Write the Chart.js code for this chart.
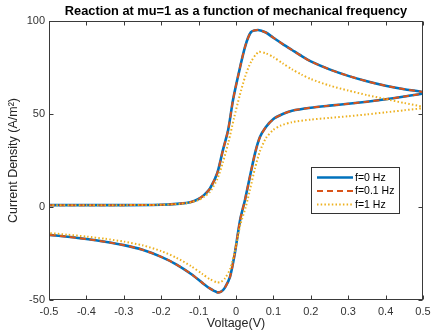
<!DOCTYPE html>
<html>
<head>
<meta charset="utf-8">
<script src="https://cdn.jsdelivr.net/npm/chart.js@4.4.1/dist/chart.umd.min.js"></script>
<style>
html,body{margin:0;padding:0;background:#fff;}
#wrap{width:446px;height:335px;position:relative;}
</style>
</head>
<body>
<div id="wrap"><canvas id="c" width="446" height="335"></canvas></div>
<script>
// ---- data ----
const seriesLabels = ['f=0 Hz', 'f=0.1 Hz', 'f=1 Hz'];
const xTickValues = [-0.5, -0.4, -0.3, -0.2, -0.1, 0, 0.1, 0.2, 0.3, 0.4, 0.5];
const yTickValues = [-50, 0, 50, 100];

// f = 0 Hz, forward sweep (-0.5 -> 0.5)
const voltF0 = [-0.5, -0.4, -0.3, -0.2, -0.15, -0.12, -0.1, -0.085, -0.07, -0.05, -0.035, -0.021, -0.008, 0.005, 0.024, 0.04, 0.059, 0.08, 0.1, 0.125, 0.15, 0.175, 0.2, 0.25, 0.3, 0.35, 0.4, 0.45, 0.5];
const currF0 = [1.0, 1.0, 1.0, 1.2, 1.8, 2.7, 4.3, 6.5, 9.8, 18.3, 30.6, 41.4, 57.5, 69.9, 86.0, 94.0, 95.2, 93.8, 91.0, 87.6, 84.4, 81.2, 78.3, 74.0, 70.5, 67.6, 65.2, 63.3, 61.8];
// f = 0 Hz, reverse sweep (0.5 -> -0.5)
const voltR0 = [0.5, 0.45, 0.4, 0.35, 0.3, 0.25, 0.2, 0.15, 0.125, 0.1, 0.08, 0.064, 0.051, 0.037, 0.024, 0.011, -0.003, -0.016, -0.03, -0.04, -0.051, -0.07, -0.09, -0.12, -0.16, -0.2, -0.25, -0.3, -0.35, -0.4, -0.45, -0.5];
const currR0 = [61.0, 59.4, 57.9, 56.6, 55.5, 54.5, 53.4, 51.8, 50.0, 47.3, 43.0, 37.6, 29.0, 16.1, 3.8, -7.0, -24.7, -37.6, -43.5, -45.5, -45.8, -43.8, -40.8, -36.0, -30.8, -26.8, -23.0, -20.5, -18.7, -17.2, -16.0, -15.0];

// f = 0.1 Hz (indistinguishable from f = 0 Hz in the figure)
const voltF01 = [-0.5, -0.4, -0.3, -0.2, -0.15, -0.12, -0.1, -0.085, -0.07, -0.05, -0.035, -0.021, -0.008, 0.005, 0.024, 0.04, 0.059, 0.08, 0.1, 0.125, 0.15, 0.175, 0.2, 0.25, 0.3, 0.35, 0.4, 0.45, 0.5];
const currF01 = [1.0, 1.0, 1.0, 1.2, 1.8, 2.7, 4.3, 6.5, 9.8, 18.3, 30.6, 41.4, 57.5, 69.9, 86.0, 94.0, 95.2, 93.8, 91.0, 87.6, 84.4, 81.2, 78.3, 74.0, 70.5, 67.6, 65.2, 63.3, 61.8];
const voltR01 = [0.5, 0.45, 0.4, 0.35, 0.3, 0.25, 0.2, 0.15, 0.125, 0.1, 0.08, 0.064, 0.051, 0.037, 0.024, 0.011, -0.003, -0.016, -0.03, -0.04, -0.051, -0.07, -0.09, -0.12, -0.16, -0.2, -0.25, -0.3, -0.35, -0.4, -0.45, -0.5];
const currR01 = [61.0, 59.4, 57.9, 56.6, 55.5, 54.5, 53.4, 51.8, 50.0, 47.3, 43.0, 37.6, 29.0, 16.1, 3.8, -7.0, -24.7, -37.6, -43.5, -45.5, -45.8, -43.8, -40.8, -36.0, -30.8, -26.8, -23.0, -20.5, -18.7, -17.2, -16.0, -15.0];

// f = 1 Hz
const voltF1 = [-0.5, -0.4, -0.3, -0.2, -0.15, -0.12, -0.1, -0.085, -0.07, -0.05, -0.035, -0.02, -0.005, 0.01, 0.025, 0.04, 0.06, 0.08, 0.1, 0.125, 0.15, 0.175, 0.2, 0.25, 0.3, 0.35, 0.4, 0.45, 0.5];
const currF1 = [1.0, 1.0, 1.0, 1.2, 1.7, 2.5, 3.8, 5.5, 8.0, 15.0, 24.0, 35.0, 48.0, 60.0, 70.5, 78.0, 83.3, 82.6, 80.6, 77.2, 74.0, 71.2, 68.8, 65.3, 62.6, 60.2, 58.0, 55.9, 53.8];
const voltR1 = [0.5, 0.45, 0.4, 0.35, 0.3, 0.25, 0.2, 0.15, 0.12, 0.1, 0.08, 0.064, 0.051, 0.037, 0.026, 0.011, 0.0, -0.015, -0.03, -0.04, -0.051, -0.07, -0.09, -0.12, -0.16, -0.2, -0.25, -0.3, -0.35, -0.4, -0.45, -0.5];
const currR1 = [53.2, 52.0, 50.9, 49.8, 48.8, 47.9, 47.0, 45.6, 43.8, 41.5, 37.0, 30.0, 21.0, 9.0, 0.0, -10.0, -21.0, -33.0, -38.5, -40.2, -40.5, -38.8, -36.0, -31.8, -27.2, -23.7, -20.6, -18.6, -17.1, -15.9, -14.9, -14.0];

function loop(vf, cf, vr, cr) {
  const pts = vf.map((v, i) => ({x: v, y: cf[i]}));
  return pts.concat(vr.map((v, i) => ({x: v, y: cr[i]})));
}

const FONT = '"Liberation Sans", Arial, Helvetica, sans-serif';

const decor = {
  id: 'decor',
  afterDraw(chart) {
    const ctx = chart.ctx, a = chart.chartArea, xs = chart.scales.x, ys = chart.scales.y;
    ctx.save();
    // box
    ctx.strokeStyle = '#3a3a3a';
    ctx.lineWidth = 1;
    const L = Math.round(a.left) + 0.5, R = Math.round(a.right) - 0.5;
    const T = Math.round(a.top) + 0.5, B = Math.round(a.bottom) - 0.5;
    ctx.strokeRect(L, T, R - L, B - T);
    // inward ticks
    ctx.beginPath();
    xTickValues.forEach(v => {
      const px = Math.round(xs.getPixelForValue(v)) + 0.5;
      ctx.moveTo(px, B); ctx.lineTo(px, B - 4);
      ctx.moveTo(px, T); ctx.lineTo(px, T + 4);
    });
    yTickValues.forEach(v => {
      const py = Math.round(ys.getPixelForValue(v)) + 0.5;
      ctx.moveTo(L, py); ctx.lineTo(L + 4, py);
      ctx.moveTo(R, py); ctx.lineTo(R - 4, py);
    });
    ctx.stroke();

    // title
    ctx.fillStyle = '#000';
    ctx.font = 'bold 12.8px ' + FONT;
    ctx.textAlign = 'center';
    ctx.textBaseline = 'middle';
    ctx.fillText('Reaction at mu=1 as a function of mechanical frequency', (a.left + a.right) / 2, 11);

    // axis titles
    ctx.fillStyle = '#262626';
    ctx.font = '12.5px ' + FONT;
    ctx.fillText('Voltage(V)', (a.left + a.right) / 2, 324);
    ctx.save();
    ctx.translate(14, (a.top + a.bottom) / 2);
    ctx.rotate(-Math.PI / 2);
    ctx.fillText('Current Density (A/m\u00B2)', 0, 0);
    ctx.restore();

    // legend
    const lx = 311.5, ly = 167.5, lw = 88, lh = 46;
    ctx.fillStyle = '#fff';
    ctx.fillRect(lx, ly, lw, lh);
    ctx.strokeStyle = '#333';
    ctx.lineWidth = 1;
    ctx.strokeRect(lx, ly, lw, lh);
    const rows = [177.5, 191, 204.5];
    chart.data.datasets.forEach((ds, i) => {
      ctx.save();
      ctx.strokeStyle = ds.borderColor;
      ctx.lineWidth = ds.borderWidth;
      ctx.setLineDash(ds.borderDash || []);
      ctx.beginPath();
      ctx.moveTo(317, rows[i]);
      ctx.lineTo(353, rows[i]);
      ctx.stroke();
      ctx.restore();
      ctx.fillStyle = '#000';
      ctx.font = '10.5px ' + FONT;
      ctx.textAlign = 'left';
      ctx.textBaseline = 'middle';
      ctx.fillText(seriesLabels[i], 355, rows[i] + 0.5);
    });
    ctx.restore();
  }
};

new Chart(document.getElementById('c'), {
  type: 'scatter',
  data: {
    datasets: [
      {label: seriesLabels[0], data: loop(voltF0, currF0, voltR0, currR0), showLine: true,
       borderColor: '#0072BD', borderWidth: 2.6, pointRadius: 0, tension: 0.25, order: 3},
      {label: seriesLabels[1], data: loop(voltF01, currF01, voltR01, currR01), showLine: true,
       borderColor: '#D95319', borderWidth: 2, borderDash: [6, 4], pointRadius: 0, tension: 0.25, order: 2},
      {label: seriesLabels[2], data: loop(voltF1, currF1, voltR1, currR1), showLine: true,
       borderColor: '#EDB120', borderWidth: 2, borderDash: [1.5, 2.2], pointRadius: 0, tension: 0.25, order: 1}
    ]
  },
  options: {
    responsive: false,
    animation: false,
    layout: {padding: {top: 21, right: 23, left: 0, bottom: 0}},
    plugins: {legend: {display: false}, tooltip: {enabled: false}, title: {display: false}},
    scales: {
      x: {
        type: 'linear', min: -0.5, max: 0.5,
        afterBuildTicks: s => { s.ticks = xTickValues.map(v => ({value: v})); },
        afterFit: s => { s.height = 35; },
        grid: {display: false, drawTicks: false},
        border: {display: false},
        ticks: {color: '#333', font: {size: 11, family: FONT}, padding: 5, maxRotation: 0,
                callback: v => String(v)}
      },
      y: {
        type: 'linear', min: -50, max: 100,
        afterBuildTicks: s => { s.ticks = yTickValues.map(v => ({value: v})); },
        afterFit: s => { s.width = 49; },
        grid: {display: false, drawTicks: false},
        border: {display: false},
        ticks: {color: '#333', font: {size: 11, family: FONT}, padding: 4,
                callback: v => String(v)}
      }
    }
  },
  plugins: [decor]
});
</script>
</body>
</html>
